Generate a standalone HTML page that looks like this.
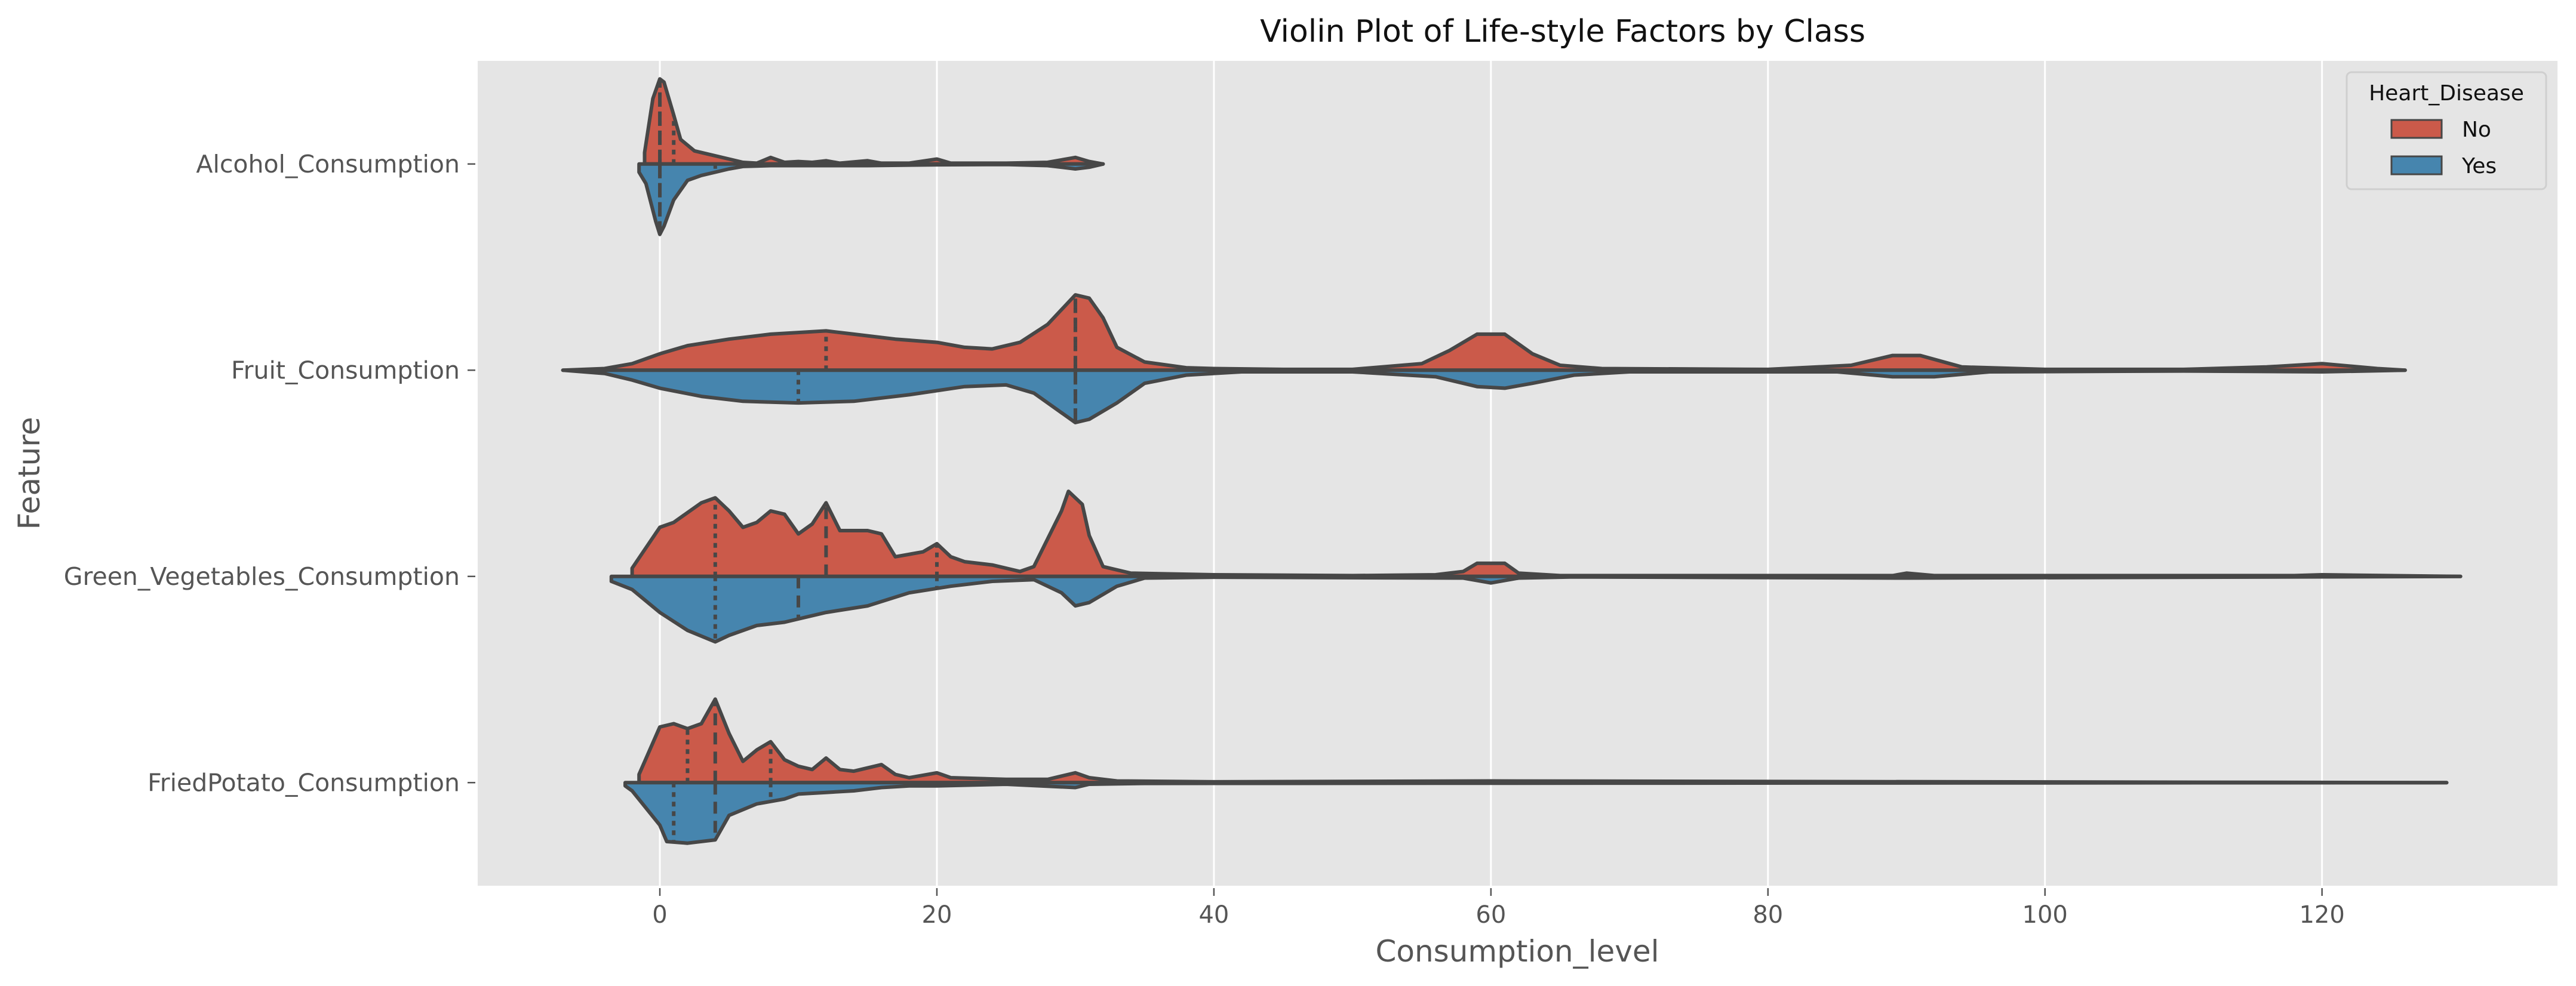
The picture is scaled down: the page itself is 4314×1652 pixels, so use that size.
<!DOCTYPE html>
<html><head><meta charset="utf-8"><style>
html,body{margin:0;padding:0;background:#fff}
svg{display:block;font-family:"DejaVu Sans","Liberation Sans",sans-serif}
</style></head><body>
<svg id="chart" width="4314" height="1652" viewBox="0 0 4314 1652" xmlns="http://www.w3.org/2000/svg">
<rect x="800" y="102" width="3483" height="1382" fill="#e5e5e5"/>
<g id="grid"></g>
<g id="violins"></g>
<g id="axes"></g>
<text x="2617" y="70" font-size="52" text-anchor="middle" fill="#111">Violin Plot of Life-style Factors by Class</text>
<text x="2541" y="1611" font-size="50" text-anchor="middle" fill="#555">Consumption_level</text>
<text x="0" y="0" font-size="50" text-anchor="middle" fill="#555" transform="translate(66,793) rotate(-90)">Feature</text>
<g>
<rect x="3930" y="121" width="334" height="196" rx="8" fill="#e5e5e5" stroke="#cfcfcf" stroke-width="3"/>
<text x="4097" y="168" font-size="36" text-anchor="middle" fill="#111">Heart_Disease</text>
<g>
<rect x="4005" y="201" width="84" height="30" fill="#cb5a4a" stroke="#474747" stroke-width="3"/>
<text x="4123" y="229" font-size="36" fill="#111">No</text></g>
<g>
<rect x="4005" y="262" width="84" height="30" fill="#4685ae" stroke="#474747" stroke-width="3"/>
<text x="4123" y="290" font-size="36" fill="#111">Yes</text></g>
</g>
</svg>
<script>
const categories = ["Alcohol_Consumption","Fruit_Consumption","Green_Vegetables_Consumption","FriedPotato_Consumption"];
const xTicks = [0,20,40,60,80,100,120];
const alcoholNo = [[-1.1,0],[-1.1,7],[-0.5,40],[0,52],[0.3,50],[1,30],[1.5,15],[2.5,8],[3.5,6],[5,3],[6,1],[7,0.5],[8,4],[9,1],[10,1.5],[11,1],[12,2],[13,0.5],[15,2],[16,0.5],[18,0.5],[20,3],[21,0.5],[25,0.5],[28,1],[30,4],[31,1.5],[32,0]];
const alcoholYes = [[-1.5,0],[-1.5,5],[-1,12],[-0.3,35],[0,43],[0.3,38],[1,22],[2,10],[3,7],[4,5],[5,3],[6,1.5],[8,1],[12,1],[15,1],[20,0.5],[25,0.3],[28,1],[30,3],[31,2],[32,0]];
const fruitNo = [[-7,0],[-4,1],[-2,4],[0,10],[2,15],[5,19],[8,22],[12,24],[14,22],[17,19],[20,17],[22,14],[24,13],[26,17],[28,28],[30,46],[31,44],[32,32],[33,14],[35,5],[38,1.5],[40,1],[45,0.5],[50,0.5],[55,4],[57,12],[59,22],[61,22],[63,10],[65,3],[68,1],[80,0.5],[86,3],[89,9],[91,9],[94,2],[100,0.5],[110,0.5],[116,2],[120,4],[124,1],[126,0]];
const fruitYes = [[-7,0],[-4,2],[-2,6],[0,11],[3,16],[6,19],[10,20],[14,19],[18,15],[22,10],[25,9],[27,14],[29,26],[30,32],[31,30],[33,20],[35,8],[38,3],[42,1],[50,1],[56,4],[59,10],[61,11],[63,8],[66,3],[70,1],[85,1],[89,4],[92,4],[96,1],[110,0.5],[120,1],[126,0]];
const vegNo = [[-2,0],[-2,5],[0,30],[1,33],[3,45],[4,48],[5,40],[6,30],[7,33],[8,40],[9,38],[10,26],[11,32],[12,45],[13,28],[15,28],[16,26],[17,12],[19,15],[20,20],[21,12],[22,9],[24,7],[26,3],[27,6],[29,40],[29.5,52],[30.5,44],[31,25],[32,6],[34,2],[40,1],[50,0.5],[56,1],[58,3],[59,8],[61,8],[62,2],[65,0.5],[89,0.5],[90,2],[92,0.5],[118,0.5],[120,1],[130,0]];
const vegYes = [[-3.5,0],[-3.5,3],[-2,8],[0,22],[2,33],[4,40],[5,36],[7,30],[9,28],[10,26],[12,22],[15,18],[18,10],[21,6],[24,3],[27,2],[29,10],[30,18],[31,16],[33,6],[35,1],[40,0.5],[58,1],[60,4],[62,1],[66,0.3],[90,1],[130,0]];
const friedNo = [[-1.5,0],[-1.5,5],[0,34],[1,36],[2,33],[3,36],[4,51],[5,30],[6,13],[7,20],[8,25],[9,14],[10,10],[11,8],[12,15],[13,8],[14,7],[16,11],[17,5],[18,3],[20,6],[21,3],[25,2],[28,2],[30,6],[31,3],[33,1],[40,0.5],[60,1],[129,0]];
const friedYes = [[-2.5,0],[-2.5,2],[-2,5],[0,26],[0.5,36],[2,37],[4,35],[5,20],[7,13],[9,10],[10,7],[12,6],[14,5],[16,3],[18,2],[20,2],[25,1],[30,3],[31,1],[35,0.5],[129,0]];
const quartNo = [[0,0,1],[12,30,30],[4,12,20],[2,4,8]];
const quartYes = [[0,0,4],[10,30,30],[4,10,20],[1,4,8]];

const NS="http://www.w3.org/2000/svg";
const X0=800,X1=4283,Y0=102,Y1=1484, XMIN=-13.15, XMAX=137.0;
function xs(v){return X0+(v-XMIN)/(XMAX-XMIN)*(X1-X0);}
function yc(i){return Y0+(i+0.5)/categories.length*(Y1-Y0);}
const bandH=(Y1-Y0)/categories.length;
function ws(d){return d/126*bandH;}
function mk(tag,attrs,parent){const e=document.createElementNS(NS,tag);for(const k in attrs)e.setAttribute(k,attrs[k]);parent.appendChild(e);return e;}
const grid=document.getElementById('grid'),axes=document.getElementById('axes'),vg=document.getElementById('violins');
xTicks.forEach(t=>{
  const gl=mk('line',{x1:xs(t),x2:xs(t),y1:Y0,y2:Y1,stroke:'#fff','stroke-width':3},grid);
  
  
  const tk=mk('line',{x1:xs(t),x2:xs(t),y1:Y1+4,y2:Y1+17,stroke:'#555','stroke-width':2.5},axes);
  
  
  const tl=mk('text',{x:xs(t),y:Y1+62,'font-size':40,'text-anchor':'middle',fill:'#555'},axes);
  tl.textContent=t;
  
  
});
categories.forEach((c,i)=>{
  const tk=mk('line',{x1:X0-17,x2:X0-4,y1:yc(i),y2:yc(i),stroke:'#555','stroke-width':2.5},axes);
  
  
  const tl=mk('text',{x:X0-30,y:yc(i)+14,'font-size':41,'text-anchor':'end',fill:'#555'},axes);
  tl.textContent=c;
  
  
});
const series=[[alcoholNo,alcoholYes],[fruitNo,fruitYes],[vegNo,vegYes],[friedNo,friedYes]];
function interp(pts,x){for(let k=0;k<pts.length-1;k++){const a=pts[k],b=pts[k+1];if(x>=a[0]&&x<=b[0]){if(b[0]===a[0])return Math.max(a[1],b[1]);return a[1]+(b[1]-a[1])*(x-a[0])/(b[0]-a[0]);}}return 0;}
series.forEach((pair,i)=>{
  const cy=yc(i);
  [[pair[0],-1,'#cb5a4a',quartNo[i],'no'],[pair[1],1,'#4685ae',quartYes[i],'yes']].forEach(([pts,dir,col,q,lab])=>{
    let d='M'+xs(pts[0][0])+','+cy;
    pts.forEach(p=>{d+=' L'+xs(p[0]).toFixed(1)+','+(cy+dir*ws(p[1])).toFixed(1);});
    d+=' L'+xs(pts[pts.length-1][0])+','+cy+' Z';
    const p=mk('path',{d:d,fill:col,stroke:'#474747','stroke-width':6,'stroke-linejoin':'round'},vg);
    
    
    q.forEach((qv,k)=>{
      const h=ws(interp(pts,qv));
      const l=mk('line',{x1:xs(qv),x2:xs(qv),y1:cy,y2:cy+dir*h,stroke:'#474747','stroke-width':6,'stroke-dasharray':k===1?'20,12':'8,8'},vg);
      
      
    });
  });
});
</script>
</body></html>
